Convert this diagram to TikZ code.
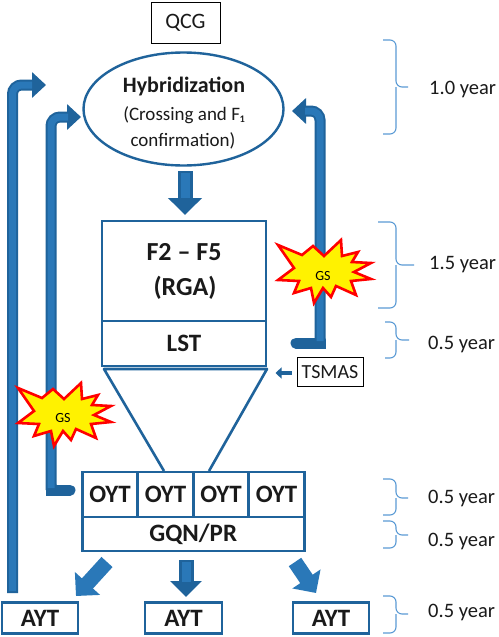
\documentclass[tikz,border=0pt]{standalone}
\usepackage{fontspec}
\setmainfont{Carlito}
\usetikzlibrary{arrows.meta,shapes.geometric}
\definecolor{bluedk}{HTML}{1F639B}
\definecolor{bluemid}{HTML}{2A78B8}
\definecolor{bracecol}{HTML}{5B9BD5}
\definecolor{txt}{HTML}{1A1A1A}
\tikzset{
  boxb/.style={draw=bluedk,line width=2.6pt,minimum height=0pt,inner sep=0pt,text=txt,font=\bfseries\fontsize{25}{27}\selectfont},
  lab/.style={draw=black,line width=0.9pt,fill=white,inner sep=0pt,text=txt},
  bigarrow/.style={line width=11pt,draw=bluedk,-{Triangle[width=25pt,length=14pt]}},
  fatarrow/.style={line width=15pt,draw=bluedk,-{Triangle[width=33pt,length=17pt]}},
  core/.style={line width=7pt,draw=bluemid},
  roundband/.style={line width=11pt,draw=bluedk,line cap=round},
  bracepath/.style={draw=bracecol,line width=1.1pt,rounded corners=6pt},
  yr/.style={anchor=west,text=txt,font=\fontsize{20.5}{22}\selectfont,inner sep=0pt},
  gs/.style={text=black,inner sep=0pt,font=\fontsize{14}{15}\selectfont},
  star/.style={draw=red,line width=2.6pt,fill=yellow,line join=miter,miter limit=6}
}
\newcommand{\burst}[2]{%
\draw[star,shift={(#1,#2)}] (-46,-28) -- (-22,-18) -- (-11,-27) -- (0,-17) -- (17,-33) -- (18,-17) -- (34,-21) -- (28,-11) -- (47,-10) -- (30,-1) -- (47,6) -- (27,8) -- (32,22) -- (12,13) -- (7,24) -- (-1,15) -- (-10,30) -- (-13,15) -- (-30,20) -- (-25,8) -- (-46,7) -- (-30,-5) -- cycle;}
\newcommand{\bracket}[5]{% x-left, y-top, y-mid, y-bottom, x-tip
\draw[bracepath] (#1,#2) -- (396,#2) -- (396,#3) -- (#5,#3);
\draw[bracepath] (396,#3) -- (396,#4) -- (#1,#4);}
\begin{document}
\begin{tikzpicture}[x=1pt,y=-1pt]
\useasboundingbox[fill=white] (0,0) rectangle (498,637);
% frames
\node[lab,minimum width=69pt,minimum height=41pt,font=\fontsize{22}{24}\selectfont] (qcg) at (185.5,23) {QCG};
\node[draw=bluedk,line width=2.4pt,ellipse,minimum width=200pt,minimum height=113pt,inner sep=0pt] (hyb) at (183.5,109) {};
\node[text=txt,font=\bfseries\fontsize{22}{24}\selectfont,inner sep=0pt] (hybt) at (184,86) {Hybridization};
\node[text=txt,font=\fontsize{19}{21}\selectfont,inner sep=0pt] (hybs) at (184,115) {(Crossing and F₁};
\node[text=txt,font=\fontsize{19}{21}\selectfont,inner sep=0pt] (hybc) at (183,141) {confirmation)};
% RGA
\node[boxb,minimum width=164pt,minimum height=100pt] (rga) at (184,271) {};
\node[text=txt,font=\bfseries\fontsize{26}{28}\selectfont,inner sep=0pt] (rgaa) at (184,252) {F2 – F5};
\node[text=txt,font=\bfseries\fontsize{26}{28}\selectfont,inner sep=0pt] (rgab) at (185,288) {(RGA)};
\node[boxb,minimum width=164pt,minimum height=45pt] (lst) at (184,343.5) {LST};
% funnel
\coordinate (fa) at (104,369);
\coordinate (fb) at (267,369);
\coordinate (fc) at (164,471);
\coordinate (fd) at (209,471);
\draw[bluedk,line width=2.6pt,line join=round] (fc) -- (fa) -- (fb) -- (fd);
% OYT
\node[boxb,minimum width=55.5pt,minimum height=45pt] (o1) at (110,494.5) {OYT};
\node[boxb,minimum width=55.5pt,minimum height=45pt] (o2) at (165.5,494.5) {OYT};
\node[boxb,minimum width=55.5pt,minimum height=45pt] (o3) at (221,494.5) {OYT};
\node[boxb,minimum width=55.5pt,minimum height=45pt] (o4) at (276.5,494.5) {OYT};
\node[boxb,minimum width=222pt,minimum height=34pt] (gqn) at (193.25,534) {GQN/PR};
% AYT
\node[boxb,minimum width=76pt,minimum height=31pt] (a1) at (40,618) {\raisebox{-4pt}{AYT}};
\node[boxb,minimum width=77pt,minimum height=31pt] (a2) at (183.5,618) {\raisebox{-4pt}{AYT}};
\node[boxb,minimum width=76pt,minimum height=31pt] (a3) at (331,618) {\raisebox{-4pt}{AYT}};
% big feedback arrows
\coordinate (l1s) at (12.5,593);
\coordinate (l1e) at (46,85);
\coordinate (l2s) at (70,490);
\coordinate (l2e) at (81,117);
\coordinate (r1s) at (296,343);
\coordinate (r1e) at (292,111);
\draw[bigarrow,rounded corners=9pt] (l1s) -- (12.5,85) -- (l1e);
\draw[core,rounded corners=9pt] (12.5,591) -- (12.5,85) -- (32,85);
\draw[roundband] (51,486) -- (51,490) -- (70,490);
\draw[bigarrow,rounded corners=9pt] (51,490) -- (51,117) -- (l2e);
\draw[core,rounded corners=9pt] (51,488) -- (51,117) -- (68,117);
\draw[roundband] (320,340) -- (320,343) -- (296,343);
\draw[bigarrow,rounded corners=9pt] (320,343) -- (320,111) -- (r1e);
\draw[core,rounded corners=9pt] (320,341) -- (320,111) -- (305,111);
% down arrows
\coordinate (d0s) at (185,171);
\draw[fatarrow] (d0s) -- (185,215);
\draw[line width=9pt,bluemid] (185,173) -- (185,198);
\coordinate (d1s) at (107,562);
\coordinate (d1e) at (76,596);
\draw[fatarrow,bluemid] (d1s) -- (d1e);
\coordinate (d2s) at (186,560);
\coordinate (d2e) at (186,597);
\draw[fatarrow,-{Triangle[width=31pt,length=16pt]}] (d2s) -- (d2e);
\draw[line width=9pt,bluemid] (186,562) -- (186,582);
\coordinate (d3s) at (295,562);
\coordinate (d3e) at (316,593);
\draw[fatarrow,bluemid] (d3s) -- (d3e);
% TSMAS
\node[lab,minimum width=66pt,minimum height=29pt,font=\fontsize{20}{22}\selectfont] (ts) at (330,372) {TSMAS};
\draw[line width=4.5pt,bluedk,-{Triangle[width=11pt,length=6pt]}] (ts.west)+(-5,1) -- +(-21,1);
% stars
\burst{324}{273}
\node[gs] (gs1) at (323,276) {GS};
\burst{64}{416}
\node[gs] (gs2) at (63,418) {GS};
% braces
\bracket{383}{40}{87}{134}{408}
\bracket{378}{222}{265}{308}{414}
\bracket{385}{322}{340}{358}{409}
\bracket{383}{479}{498}{515}{408}
\bracket{383}{521}{535}{548}{408}
\bracket{383}{596}{614}{633}{408}
\node[yr] (y1) at (429,89) {1.0 year};
\node[yr] (y2) at (429,265) {1.5 year};
\node[yr] (y3) at (428,344) {0.5 year};
\node[yr] (y4) at (428,498) {0.5 year};
\node[yr] (y5) at (428,541) {0.5 year};
\node[yr] (y6) at (428,612) {0.5 year};
\end{tikzpicture}
\end{document}
